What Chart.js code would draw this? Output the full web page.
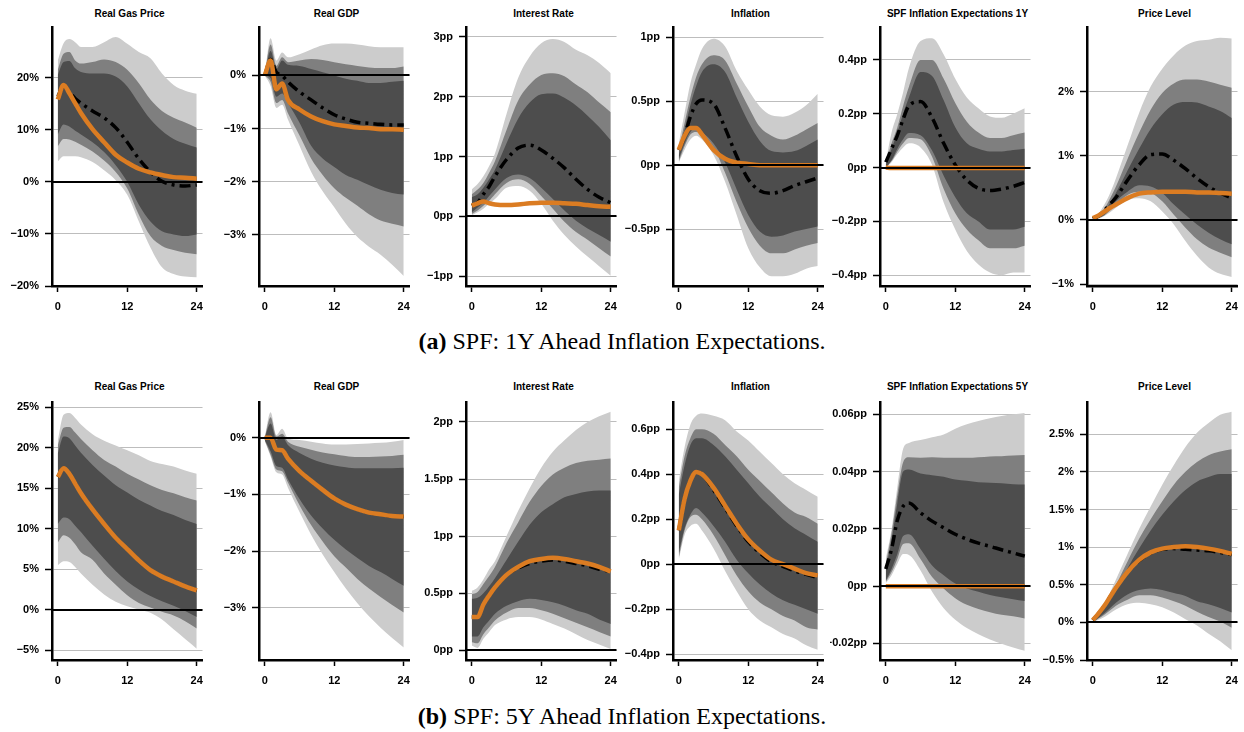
<!DOCTYPE html>
<html>
<head>
<meta charset="utf-8">
<script src="https://cdn.jsdelivr.net/npm/chart.js@4.4.1/dist/chart.umd.min.js"></script>
<style>
  body { margin: 0; width: 1244px; height: 732px; background: #fff; position: relative; overflow: hidden; }
  canvas { position: absolute; }
  .ttl { position: absolute; width: 155px; text-align: center; font: bold 10px "Liberation Sans", Arial, sans-serif; line-height: 12px; color: #000; white-space: nowrap; }
  .cap { position: absolute; left: 0; width: 1244px; text-align: center; font: 24px "Liberation Serif", "Times New Roman", serif; line-height: 26px; color: #000; }
</style>
</head>
<body>
<div class="cap" style="top:328px"><b>(a)</b> SPF: 1Y Ahead Inflation Expectations.</div>
<div class="cap" style="top:703px"><b>(b)</b> SPF: 5Y Ahead Inflation Expectations.</div>
<script>
"use strict";

// ---- data (months after the shock) ----
const MONTHS = [0, 1, 2, 3, 4, 6, 8, 10, 12, 14, 16, 18, 20, 22, 24];

const TITLES_A = ["Real Gas Price", "Real GDP", "Interest Rate", "Inflation", "SPF Inflation Expectations 1Y", "Price Level"];
const TITLES_B = ["Real Gas Price", "Real GDP", "Interest Rate", "Inflation", "SPF Inflation Expectations 5Y", "Price Level"];
const UNITS = ["%", "%", "pp", "pp", "pp", "%"];

const Y_MIN_A = [-20, -3.96, -1.16, -0.946, -0.44, -1.03];
const Y_MAX_A = [29.6, 0.9, 3.15, 1.077, 0.52, 3.0];
const Y_MIN_B = [-6.2, -3.92, -0.086, -0.426, -0.0258, -0.5];
const Y_MAX_B = [25.6, 0.62, 2.17, 0.718, 0.0641, 2.92];

const TICKS_A = [
  [-20, -10, 0, 10, 20],
  [-3, -2, -1, 0],
  [-1, 0, 1, 2, 3],
  [-0.5, 0, 0.5, 1],
  [-0.4, -0.2, 0, 0.2, 0.4],
  [-1, 0, 1, 2],
];
const TICKS_B = [
  [-5, 0, 5, 10, 15, 20, 25],
  [-3, -2, -1, 0],
  [0, 0.5, 1, 1.5, 2],
  [-0.4, -0.2, 0, 0.2, 0.4, 0.6],
  [-0.02, 0, 0.02, 0.04, 0.06],
  [-0.5, 0, 0.5, 1, 1.5, 2, 2.5],
];

// (a) 1Y expectations: outer / middle / inner bands, baseline (dash-dot), counterfactual (orange)
const gasA_oHi = [23.3, 26.6, 27.4, 26.8, 25.9, 25.9, 26.8, 27.8, 26.5, 24.9, 23.7, 20.8, 18.6, 17.5, 16.9];
const gasA_mHi = [21.5, 24.6, 24.9, 23.3, 22.7, 23.0, 23.5, 23.0, 21.5, 18.9, 15.8, 13.6, 12.3, 11.4, 10.4];
const gasA_iHi = [20.5, 23.0, 23.2, 21.8, 21.1, 20.8, 20.8, 20.2, 18.3, 15.1, 12.0, 9.8, 8.2, 7.3, 6.6];
const gasA_iLo = [9.1, 11.0, 10.6, 9.8, 9.1, 7.6, 5.7, 3.2, 0, -4.4, -7.6, -9.5, -10.1, -10.4, -10.1];
const gasA_mLo = [6.8, 8.2, 8.1, 7.7, 7.1, 5.8, 4.1, 1.9, -1.3, -6.3, -10.4, -12.3, -13.1, -13.6, -13.9];
const gasA_oLo = [3.9, 4.9, 4.9, 4.9, 4.7, 3.8, 2.2, 0.3, -2.5, -7.6, -12.6, -16.4, -17.7, -18.2, -18.3];
const gasA_base = [16.4, 18.3, 17.2, 16.0, 15.1, 13.6, 12.3, 10.4, 7.6, 4.4, 1.9, 0.1, -0.6, -0.8, -0.6];
const gasA_cf = [15.8, 18.6, 17.0, 15.1, 13.2, 10.1, 7.6, 5.2, 3.7, 2.5, 1.8, 1.3, 0.9, 0.8, 0.6];

const gdpA_oHi = [0, 0.7, 0.28, 0.43, 0.34, 0.4, 0.49, 0.57, 0.6, 0.6, 0.58, 0.55, 0.53, 0.53, 0.53];
const gdpA_mHi = [0, 0.58, 0.18, 0.34, 0.25, 0.28, 0.31, 0.29, 0.25, 0.21, 0.18, 0.15, 0.14, 0.14, 0.17];
const gdpA_iHi = [0, 0.46, 0.12, 0.28, 0.2, 0.18, 0.12, 0.06, 0, -0.06, -0.1, -0.14, -0.14, -0.12, -0.1];
const gdpA_iLo = [0, -0.05, -0.4, -0.34, -0.52, -0.89, -1.32, -1.56, -1.72, -1.87, -1.96, -2.06, -2.15, -2.21, -2.24];
const gdpA_mLo = [0, -0.12, -0.52, -0.46, -0.71, -1.13, -1.56, -1.87, -2.12, -2.3, -2.45, -2.61, -2.73, -2.79, -2.84];
const gdpA_oLo = [0, -0.2, -0.61, -0.55, -0.83, -1.32, -1.81, -2.18, -2.48, -2.79, -3.04, -3.22, -3.37, -3.56, -3.77];
const gdpA_base = [0, 0.3, 0.06, 0, -0.12, -0.31, -0.46, -0.61, -0.74, -0.82, -0.88, -0.9, -0.92, -0.93, -0.93];
const gdpA_cf = [0, 0.28, -0.26, -0.15, -0.46, -0.64, -0.77, -0.86, -0.92, -0.95, -0.98, -0.99, -1.01, -1.01, -1.02];

const rateA_oHi = [0.45, 0.54, 0.67, 0.84, 1.05, 1.71, 2.31, 2.67, 2.89, 2.96, 2.91, 2.78, 2.69, 2.56, 2.39];
const rateA_mHi = [0.37, 0.45, 0.56, 0.73, 0.92, 1.44, 1.93, 2.2, 2.36, 2.39, 2.34, 2.2, 2.07, 1.9, 1.74];
const rateA_iHi = [0.32, 0.37, 0.48, 0.62, 0.78, 1.22, 1.63, 1.9, 2.04, 2.05, 1.98, 1.85, 1.68, 1.49, 1.27];
const rateA_iLo = [0.07, 0.15, 0.23, 0.34, 0.45, 0.64, 0.7, 0.64, 0.48, 0.29, 0.1, -0.07, -0.2, -0.31, -0.42];
const rateA_mLo = [0.04, 0.1, 0.18, 0.26, 0.37, 0.56, 0.62, 0.54, 0.34, 0.13, -0.09, -0.26, -0.39, -0.53, -0.67];
const rateA_oLo = [0.02, 0.07, 0.13, 0.21, 0.29, 0.48, 0.51, 0.43, 0.21, -0.07, -0.31, -0.5, -0.67, -0.83, -0.99];
const rateA_base = [0.18, 0.23, 0.37, 0.5, 0.67, 0.95, 1.14, 1.19, 1.11, 0.97, 0.81, 0.62, 0.45, 0.32, 0.23];
const rateA_cf = [0.18, 0.22, 0.25, 0.22, 0.2, 0.19, 0.2, 0.22, 0.23, 0.23, 0.22, 0.21, 0.19, 0.17, 0.16];

const inflA_oHi = [0.17, 0.41, 0.64, 0.79, 0.91, 0.99, 0.93, 0.74, 0.59, 0.46, 0.39, 0.38, 0.41, 0.47, 0.56];
const inflA_mHi = [0.12, 0.33, 0.53, 0.69, 0.79, 0.86, 0.82, 0.64, 0.46, 0.3, 0.23, 0.2, 0.23, 0.28, 0.33];
const inflA_iHi = [0.08, 0.28, 0.47, 0.62, 0.73, 0.79, 0.73, 0.53, 0.34, 0.19, 0.11, 0.1, 0.11, 0.15, 0.2];
const inflA_iLo = [0.05, 0.17, 0.26, 0.29, 0.26, 0.17, 0.02, -0.19, -0.39, -0.52, -0.56, -0.55, -0.52, -0.5, -0.48];
const inflA_mLo = [0.03, 0.15, 0.24, 0.26, 0.24, 0.14, -0.06, -0.29, -0.49, -0.63, -0.69, -0.69, -0.66, -0.63, -0.61];
const inflA_oLo = [0.02, 0.12, 0.2, 0.23, 0.2, 0.08, -0.13, -0.39, -0.65, -0.8, -0.87, -0.87, -0.85, -0.81, -0.79];
const inflA_base = [0.12, 0.23, 0.38, 0.48, 0.51, 0.48, 0.29, 0.07, -0.11, -0.2, -0.22, -0.2, -0.16, -0.13, -0.1];
const inflA_cf = [0.12, 0.23, 0.29, 0.29, 0.24, 0.12, 0.05, 0.02, 0.01, 0, 0, 0, 0, 0, 0];

const spf1_oHi = [0.02, 0.13, 0.2, 0.28, 0.37, 0.47, 0.48, 0.42, 0.33, 0.26, 0.22, 0.19, 0.185, 0.2, 0.22];
const spf1_mHi = [0.015, 0.09, 0.15, 0.23, 0.3, 0.4, 0.4, 0.33, 0.24, 0.17, 0.13, 0.11, 0.11, 0.12, 0.13];
const spf1_iHi = [0.01, 0.07, 0.13, 0.2, 0.26, 0.355, 0.34, 0.25, 0.15, 0.09, 0.07, 0.06, 0.06, 0.065, 0.07];
const spf1_iLo = [0, 0.027, 0.07, 0.105, 0.128, 0.12, 0.063, -0.03, -0.11, -0.17, -0.2, -0.23, -0.23, -0.23, -0.22];
const spf1_mLo = [0, 0.024, 0.06, 0.09, 0.11, 0.105, 0.04, -0.08, -0.17, -0.23, -0.27, -0.3, -0.3, -0.3, -0.29];
const spf1_oLo = [0, 0.02, 0.05, 0.075, 0.09, 0.075, 0.01, -0.13, -0.23, -0.31, -0.36, -0.39, -0.4, -0.39, -0.39];
const spf1_base = [0.02, 0.07, 0.12, 0.18, 0.23, 0.245, 0.185, 0.09, 0.01, -0.046, -0.077, -0.085, -0.08, -0.07, -0.055];
const spf1_cf = [0, -0.002, -0.002, -0.002, -0.002, -0.002, -0.002, -0.002, -0.002, -0.002, -0.002, -0.002, -0.002, -0.002, -0.002];

const plA_oHi = [0.03, 0.1, 0.24, 0.42, 0.65, 1.16, 1.67, 2.08, 2.36, 2.57, 2.72, 2.79, 2.81, 2.84, 2.83];
const plA_mHi = [0.02, 0.08, 0.18, 0.34, 0.52, 0.95, 1.36, 1.72, 1.98, 2.13, 2.19, 2.19, 2.16, 2.11, 2.06];
const plA_iHi = [0.015, 0.06, 0.14, 0.27, 0.42, 0.77, 1.11, 1.42, 1.65, 1.8, 1.84, 1.83, 1.77, 1.7, 1.59];
const plA_iLo = [0, 0.03, 0.08, 0.18, 0.29, 0.44, 0.54, 0.52, 0.42, 0.24, 0.08, -0.07, -0.2, -0.3, -0.38];
const plA_mLo = [0, 0.03, 0.07, 0.15, 0.24, 0.39, 0.44, 0.42, 0.29, 0.08, -0.12, -0.3, -0.43, -0.51, -0.58];
const plA_oLo = [0, 0.02, 0.06, 0.12, 0.19, 0.31, 0.34, 0.29, 0.13, -0.07, -0.33, -0.56, -0.74, -0.84, -0.89];
const plA_base = [0.02, 0.06, 0.15, 0.25, 0.35, 0.62, 0.86, 1.02, 1.03, 0.93, 0.8, 0.65, 0.52, 0.42, 0.34];
const plA_cf = [0.03, 0.07, 0.13, 0.19, 0.24, 0.34, 0.41, 0.43, 0.44, 0.44, 0.44, 0.43, 0.43, 0.42, 0.41];

// (b) 5Y expectations
const gasB_oHi = [20.9, 24.1, 24.3, 23.7, 22.9, 21.7, 20.9, 20.3, 19.7, 19.1, 18.4, 18.0, 17.7, 17.2, 16.8];
const gasB_mHi = [20.3, 22.5, 22.6, 21.9, 21.1, 19.7, 18.5, 17.7, 16.8, 16.1, 15.4, 14.8, 14.4, 13.9, 13.5];
const gasB_iHi = [19.3, 21.4, 21.2, 20.3, 19.4, 17.9, 16.6, 15.4, 14.5, 13.6, 12.9, 12.2, 11.7, 11.1, 10.6];
const gasB_iLo = [10.6, 11.4, 11.2, 10.4, 9.6, 7.9, 6.3, 4.8, 3.5, 2.5, 1.7, 1.05, 0.5, -0.16, -0.9];
const gasB_mLo = [8.3, 9.2, 8.9, 8.1, 7.1, 6.2, 4.5, 3.1, 1.8, 0.85, 0.3, -0.25, -0.7, -1.4, -2.3];
const gasB_oLo = [5.5, 6.0, 5.9, 5.3, 4.5, 3.1, 1.9, 1.0, 0.45, 0.04, -0.36, -1.2, -2.4, -3.6, -4.8];
const gasB_base = [16.4, 17.5, 16.8, 15.6, 14.4, 12.4, 10.6, 8.9, 7.5, 6.1, 4.9, 4.1, 3.5, 2.9, 2.4];
const gasB_cf = [16.4, 17.5, 16.8, 15.6, 14.4, 12.4, 10.6, 8.9, 7.5, 6.1, 4.9, 4.1, 3.5, 2.9, 2.4];

const gdpB_oHi = [0, 0.45, 0.05, 0.16, -0.01, -0.04, -0.07, -0.1, -0.12, -0.12, -0.11, -0.1, -0.09, -0.07, -0.04];
const gdpB_mHi = [0, 0.36, 0.02, 0.07, -0.07, -0.16, -0.21, -0.26, -0.29, -0.32, -0.34, -0.34, -0.33, -0.32, -0.3];
const gdpB_iHi = [0, 0.25, -0.04, 0.02, -0.13, -0.27, -0.37, -0.44, -0.49, -0.52, -0.54, -0.54, -0.54, -0.54, -0.53];
const gdpB_iLo = [-0.04, -0.24, -0.5, -0.53, -0.73, -1.08, -1.37, -1.6, -1.8, -1.97, -2.12, -2.26, -2.37, -2.49, -2.61];
const gdpB_mLo = [-0.05, -0.3, -0.56, -0.59, -0.79, -1.19, -1.54, -1.83, -2.09, -2.29, -2.49, -2.66, -2.81, -2.95, -3.08];
const gdpB_oLo = [-0.06, -0.33, -0.61, -0.65, -0.88, -1.31, -1.71, -2.06, -2.37, -2.66, -2.92, -3.15, -3.35, -3.53, -3.7];
const gdpB_base = [0, 0, -0.21, -0.22, -0.37, -0.59, -0.76, -0.92, -1.07, -1.18, -1.26, -1.32, -1.35, -1.38, -1.39];
const gdpB_cf = [0, 0, -0.21, -0.22, -0.37, -0.59, -0.76, -0.92, -1.07, -1.18, -1.26, -1.32, -1.35, -1.38, -1.39];

const rateB_oHi = [0.52, 0.55, 0.62, 0.71, 0.78, 1.0, 1.22, 1.42, 1.6, 1.74, 1.84, 1.93, 2.0, 2.05, 2.09];
const rateB_mHi = [0.49, 0.51, 0.58, 0.65, 0.73, 0.94, 1.12, 1.3, 1.44, 1.54, 1.6, 1.64, 1.66, 1.67, 1.68];
const rateB_iHi = [0.45, 0.46, 0.5, 0.56, 0.63, 0.79, 0.95, 1.1, 1.21, 1.28, 1.34, 1.37, 1.39, 1.4, 1.4];
const rateB_iLo = [0.12, 0.12, 0.2, 0.26, 0.32, 0.39, 0.43, 0.45, 0.44, 0.42, 0.39, 0.35, 0.32, 0.27, 0.23];
const rateB_mLo = [0.07, 0.06, 0.14, 0.2, 0.26, 0.33, 0.37, 0.37, 0.35, 0.32, 0.28, 0.24, 0.2, 0.16, 0.12];
const rateB_oLo = [0.04, 0.02, 0.1, 0.16, 0.22, 0.27, 0.29, 0.29, 0.27, 0.23, 0.19, 0.14, 0.09, 0.05, 0.01];
const rateB_base = [0.29, 0.29, 0.4, 0.48, 0.55, 0.66, 0.72, 0.76, 0.78, 0.79, 0.78, 0.76, 0.74, 0.71, 0.69];
const rateB_cf = [0.29, 0.29, 0.4, 0.48, 0.55, 0.66, 0.73, 0.78, 0.8, 0.81, 0.8, 0.78, 0.76, 0.73, 0.69];

const inflB_oHi = [0.37, 0.52, 0.62, 0.66, 0.67, 0.66, 0.64, 0.59, 0.55, 0.5, 0.45, 0.4, 0.36, 0.33, 0.3];
const inflB_mHi = [0.34, 0.48, 0.56, 0.6, 0.6, 0.58, 0.53, 0.48, 0.42, 0.37, 0.32, 0.27, 0.23, 0.21, 0.18];
const inflB_iHi = [0.31, 0.44, 0.53, 0.56, 0.56, 0.53, 0.48, 0.42, 0.36, 0.3, 0.25, 0.2, 0.16, 0.13, 0.1];
const inflB_iLo = [0.05, 0.16, 0.22, 0.25, 0.23, 0.17, 0.1, 0.02, -0.04, -0.09, -0.13, -0.16, -0.18, -0.2, -0.22];
const inflB_mLo = [0.03, 0.15, 0.21, 0.22, 0.2, 0.13, 0.04, -0.05, -0.12, -0.17, -0.2, -0.23, -0.25, -0.28, -0.29];
const inflB_oLo = [0.02, 0.13, 0.17, 0.18, 0.15, 0.07, -0.03, -0.12, -0.2, -0.25, -0.28, -0.31, -0.33, -0.36, -0.38];
const inflB_base = [0.15, 0.29, 0.37, 0.41, 0.4, 0.33, 0.25, 0.17, 0.1, 0.05, 0.01, -0.01, -0.03, -0.045, -0.06];
const inflB_cf = [0.15, 0.29, 0.37, 0.41, 0.4, 0.34, 0.26, 0.18, 0.11, 0.06, 0.02, 0, -0.02, -0.04, -0.05];

const spf5_oHi = [0.0095, 0.0198, 0.0347, 0.048, 0.05, 0.051, 0.052, 0.053, 0.055, 0.0565, 0.0577, 0.0586, 0.0594, 0.06, 0.0605];
const spf5_mHi = [0.0078, 0.0185, 0.032, 0.0433, 0.045, 0.0448, 0.045, 0.0448, 0.0448, 0.0448, 0.045, 0.0453, 0.0454, 0.0456, 0.0458];
const spf5_iHi = [0.006, 0.016, 0.029, 0.04, 0.0407, 0.0393, 0.0387, 0.0382, 0.0372, 0.0368, 0.0363, 0.0361, 0.0359, 0.0356, 0.0355];
const spf5_iLo = [0.002, 0.006, 0.0112, 0.0175, 0.0181, 0.013, 0.0072, 0.0038, 0.0009, -0.0008, -0.002, -0.0031, -0.0039, -0.0046, -0.0052];
const spf5_mLo = [0.0015, 0.0049, 0.0095, 0.0147, 0.015, 0.0095, 0.0032, -0.0008, -0.0042, -0.0065, -0.008, -0.0091, -0.01, -0.0105, -0.0113];
const spf5_oLo = [0.001, 0.0038, 0.0078, 0.0112, 0.0109, 0.0055, -0.002, -0.0077, -0.0117, -0.0146, -0.0168, -0.0186, -0.0201, -0.0214, -0.0226];
const spf5_base = [0.006, 0.013, 0.023, 0.0279, 0.029, 0.0256, 0.0227, 0.0204, 0.0181, 0.0164, 0.015, 0.0139, 0.0127, 0.0116, 0.0105];
const spf5_cf = [0, 0, 0, 0, 0, 0, 0, 0, 0, 0, 0, 0, 0, 0, 0];

const plB_oHi = [0.03, 0.12, 0.24, 0.4, 0.57, 0.91, 1.24, 1.54, 1.83, 2.09, 2.33, 2.52, 2.65, 2.76, 2.8];
const plB_mHi = [0.02, 0.11, 0.22, 0.36, 0.5, 0.81, 1.11, 1.37, 1.61, 1.83, 2.0, 2.13, 2.22, 2.27, 2.3];
const plB_iHi = [0.01, 0.1, 0.19, 0.31, 0.43, 0.72, 0.98, 1.22, 1.43, 1.61, 1.76, 1.87, 1.93, 1.97, 1.97];
const plB_iLo = [0, 0.06, 0.12, 0.19, 0.26, 0.37, 0.43, 0.45, 0.43, 0.39, 0.35, 0.28, 0.24, 0.19, 0.13];
const plB_mLo = [0, 0.05, 0.1, 0.16, 0.22, 0.3, 0.36, 0.36, 0.33, 0.28, 0.22, 0.14, 0.07, 0.01, -0.07];
const plB_oLo = [0, 0.035, 0.07, 0.12, 0.17, 0.24, 0.26, 0.24, 0.2, 0.13, 0.04, -0.04, -0.15, -0.25, -0.37];
const plB_base = [0.03, 0.12, 0.22, 0.34, 0.46, 0.67, 0.82, 0.92, 0.97, 0.98, 0.97, 0.96, 0.95, 0.93, 0.9];
const plB_cf = [0.03, 0.12, 0.22, 0.34, 0.46, 0.67, 0.83, 0.93, 0.98, 1.0, 1.01, 1.0, 0.98, 0.95, 0.91];

// ---- layout ----
const AXIS_X = [52, 259, 466, 673, 880, 1087];
const ROW_TOP = [23, 398];
const ROW_BOTTOM = [286, 660];
const PLOT_W = 155, Y_AXIS_W = 50, X_AXIS_H = 30, PAD_TOP = 8, PAD_RIGHT = 4;

const FONT = "'Liberation Sans', Arial, Helvetica, sans-serif";
const C_OUTER = "#cccccc", C_MID = "#7f7f7f", C_INNER = "#4d4d4d";
const C_CF = "#db7c22";

const SERIES_A = [
  [gasA_oHi, gasA_oLo, gasA_mHi, gasA_mLo, gasA_iHi, gasA_iLo, gasA_base, gasA_cf],
  [gdpA_oHi, gdpA_oLo, gdpA_mHi, gdpA_mLo, gdpA_iHi, gdpA_iLo, gdpA_base, gdpA_cf],
  [rateA_oHi, rateA_oLo, rateA_mHi, rateA_mLo, rateA_iHi, rateA_iLo, rateA_base, rateA_cf],
  [inflA_oHi, inflA_oLo, inflA_mHi, inflA_mLo, inflA_iHi, inflA_iLo, inflA_base, inflA_cf],
  [spf1_oHi, spf1_oLo, spf1_mHi, spf1_mLo, spf1_iHi, spf1_iLo, spf1_base, spf1_cf],
  [plA_oHi, plA_oLo, plA_mHi, plA_mLo, plA_iHi, plA_iLo, plA_base, plA_cf],
];
const SERIES_B = [
  [gasB_oHi, gasB_oLo, gasB_mHi, gasB_mLo, gasB_iHi, gasB_iLo, gasB_base, gasB_cf],
  [gdpB_oHi, gdpB_oLo, gdpB_mHi, gdpB_mLo, gdpB_iHi, gdpB_iLo, gdpB_base, gdpB_cf],
  [rateB_oHi, rateB_oLo, rateB_mHi, rateB_mLo, rateB_iHi, rateB_iLo, rateB_base, rateB_cf],
  [inflB_oHi, inflB_oLo, inflB_mHi, inflB_mLo, inflB_iHi, inflB_iLo, inflB_base, inflB_cf],
  [spf5_oHi, spf5_oLo, spf5_mHi, spf5_mLo, spf5_iHi, spf5_iLo, spf5_base, spf5_cf],
  [plB_oHi, plB_oLo, plB_mHi, plB_mLo, plB_iHi, plB_iLo, plB_base, plB_cf],
];

const pts = (arr) => MONTHS.map((m, i) => ({ x: m, y: arr[i] }));

function fmt(v, unit) {
  const s = String(Math.round(Math.abs(v) * 10000) / 10000);
  return (v < 0 ? "\u2212" : "") + s + unit;
}

// black zero line drawn over the bands and lines
const zeroLine = {
  id: "zeroLine",
  afterDatasetsDraw(chart) {
    const { ctx, chartArea: a, scales: { y } } = chart;
    const py = Math.round(y.getPixelForValue(0));
    ctx.save();
    ctx.beginPath();
    ctx.lineWidth = 2.2;
    ctx.strokeStyle = "#000";
    ctx.moveTo(a.left, py);
    ctx.lineTo(a.right, py);
    ctx.stroke();
    ctx.restore();
  },
};

function band(data, fill, color) {
  return {
    data: pts(data), fill, backgroundColor: color, borderWidth: 0,
    pointRadius: 0, cubicInterpolationMode: "monotone",
  };
}

function makePanel(row, col, title, unit, yMin, yMax, ticks, s) {
  const left = AXIS_X[col] - Y_AXIS_W;
  const top = ROW_TOP[row] - PAD_TOP;
  const h = PAD_TOP + (ROW_BOTTOM[row] - ROW_TOP[row]) + X_AXIS_H;
  const w = Y_AXIS_W + PLOT_W + PAD_RIGHT;

  const t = document.createElement("div");
  t.className = "ttl";
  t.textContent = title;
  t.style.left = AXIS_X[col] + "px";
  t.style.top = (row === 0 ? 8 : 381) + "px";
  document.body.appendChild(t);

  const cv = document.createElement("canvas");
  cv.width = w; cv.height = h;
  cv.style.left = left + "px"; cv.style.top = top + "px";
  cv.style.width = w + "px"; cv.style.height = h + "px";
  document.body.appendChild(cv);

  // index 0 is painted last (on top)
  const datasets = [
    { data: pts(s[7]), borderColor: C_CF, borderWidth: 4.5, pointRadius: 0, fill: false, cubicInterpolationMode: "monotone" },
    { data: pts(s[6]), borderColor: "#000", borderWidth: 3.5, borderDash: [11, 5, 3, 5], pointRadius: 0, fill: false, cubicInterpolationMode: "monotone" },
    band(s[4], "+1", C_INNER), band(s[5], false, C_INNER),
    band(s[2], "+1", C_MID), band(s[3], false, C_MID),
    band(s[0], "+1", C_OUTER), band(s[1], false, C_OUTER),
  ];

  new Chart(cv, {
    type: "line",
    data: { datasets },
    plugins: [zeroLine],
    options: {
      responsive: false, animation: false, devicePixelRatio: 1,
      layout: { padding: { top: PAD_TOP, right: PAD_RIGHT, left: 0, bottom: 0 } },
      plugins: { legend: { display: false }, tooltip: { enabled: false } },
      scales: {
        x: {
          type: "linear", min: -1, max: 25,
          afterBuildTicks: (sc) => { sc.ticks = [0, 12, 24].map((v) => ({ value: v })); },
          afterFit: (sc) => { sc.height = X_AXIS_H; },
          grid: { drawOnChartArea: false, tickLength: 6, tickColor: "#000", tickWidth: 1.5 },
          border: { color: "#000", width: 2.5 },
          ticks: { color: "#000", padding: 8, maxRotation: 0, autoSkip: false, font: { family: FONT, size: 11, weight: "bold" } },
        },
        y: {
          min: yMin, max: yMax,
          afterBuildTicks: (sc) => { sc.ticks = ticks.map((v) => ({ value: v })); },
          afterFit: (sc) => { sc.width = Y_AXIS_W; },
          grid: { color: "#bdbdbd", lineWidth: 1, tickLength: 7, tickColor: "#000", tickWidth: 1.5 },
          border: { color: "#000", width: 2.5 },
          ticks: { color: "#000", padding: 6, autoSkip: false, callback: (v) => fmt(v, unit), font: { family: FONT, size: 11, weight: "bold" } },
        },
      },
    },
  });
}

for (let c = 0; c < 6; c++) {
  makePanel(0, c, TITLES_A[c], UNITS[c], Y_MIN_A[c], Y_MAX_A[c], TICKS_A[c], SERIES_A[c]);
  makePanel(1, c, TITLES_B[c], UNITS[c], Y_MIN_B[c], Y_MAX_B[c], TICKS_B[c], SERIES_B[c]);
}
</script>
</body>
</html>
